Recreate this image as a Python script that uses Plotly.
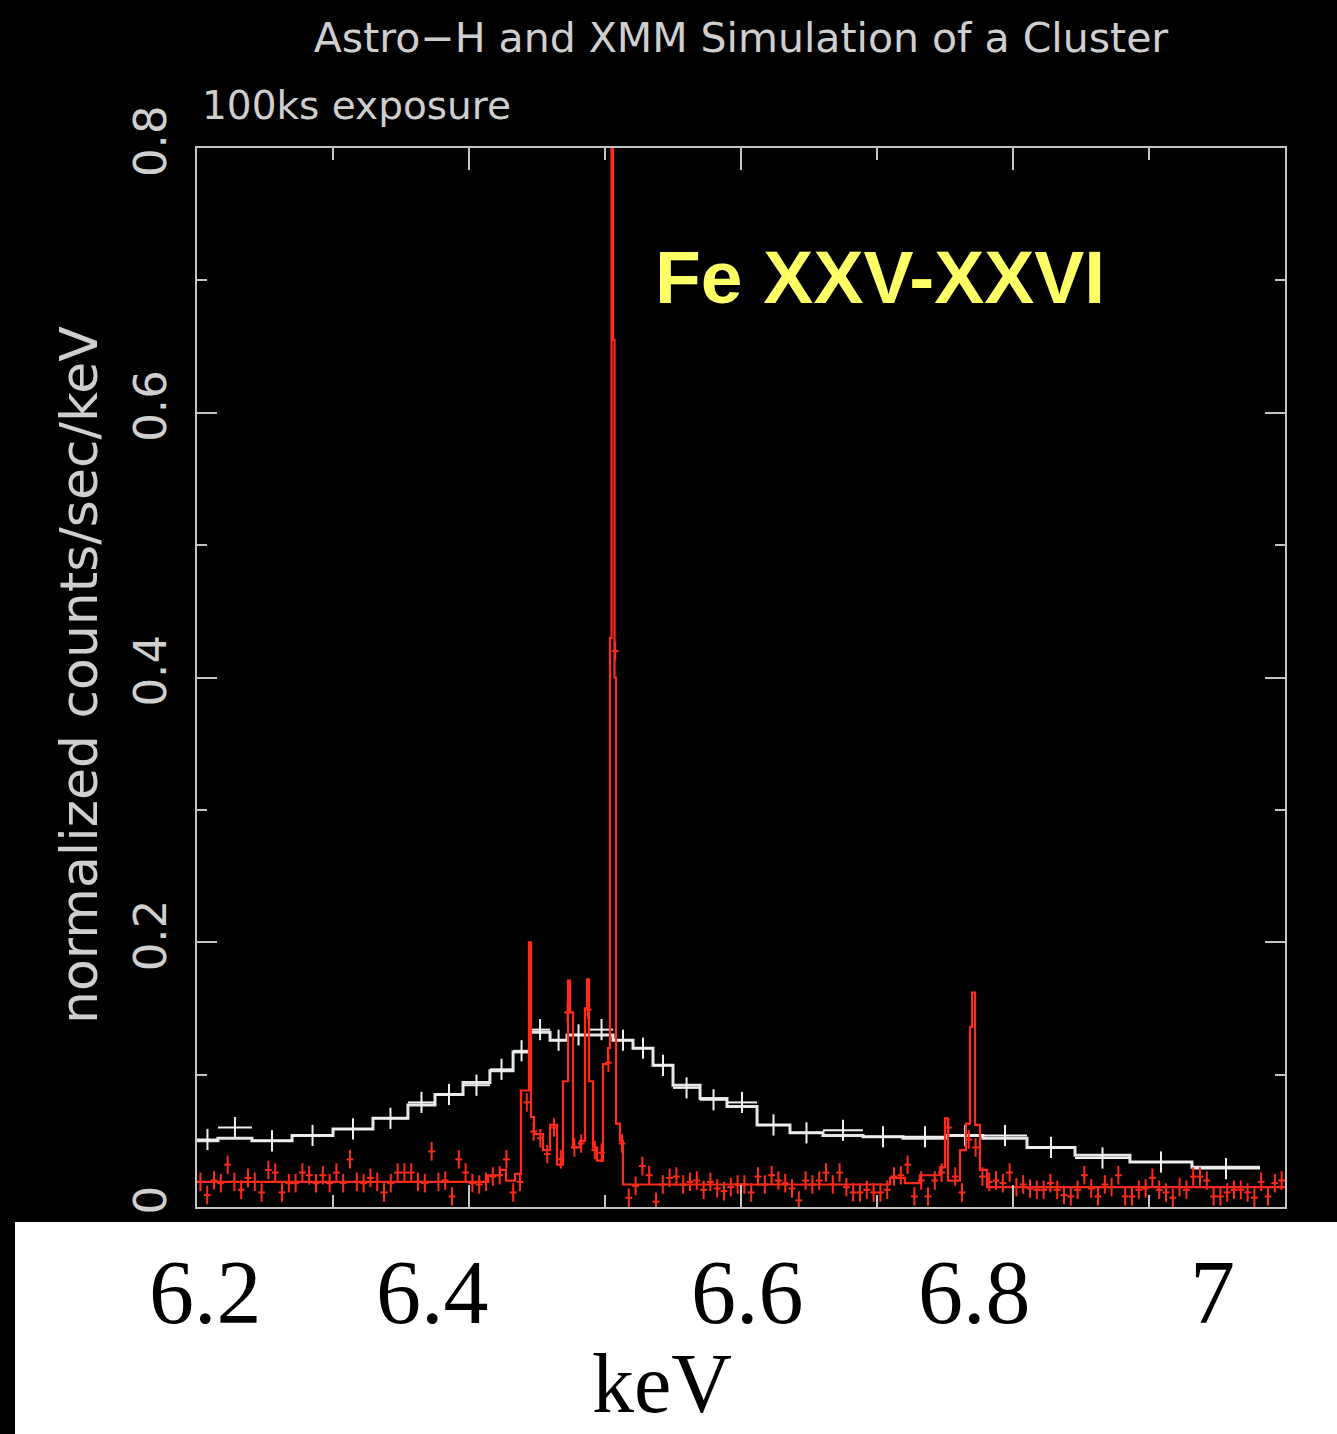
import plotly.graph_objects as go

# ---------------- data ----------------
# XMM-Newton simulated spectrum (coarse bins, keV edges) and values
xmm_edges = [6.2000, 6.2154, 6.2404, 6.2699, 6.3000, 6.3294, 6.3551, 6.3750, 6.3956,
             6.4154, 6.4324, 6.4449, 6.4596, 6.4721, 6.4890, 6.5059, 6.5206, 6.5353,
             6.5500, 6.5699, 6.5897, 6.6118, 6.6360, 6.6603, 6.6897, 6.7191, 6.7515,
             6.7779, 6.8103, 6.8456, 6.8860, 6.9316, 6.9816]
xmm_model = [0.050, 0.052, 0.050, 0.054, 0.059, 0.067, 0.077, 0.085, 0.094, 0.103,
             0.117, 0.132, 0.126, 0.130, 0.130, 0.126, 0.120, 0.107, 0.092, 0.082,
             0.076, 0.062, 0.056, 0.054, 0.053, 0.052, 0.054, 0.052, 0.045, 0.039,
             0.034, 0.030]
xmm_data = [0.051, 0.060, 0.050, 0.054, 0.059, 0.067, 0.079, 0.085, 0.092, 0.104,
            0.118, 0.134, 0.126, 0.130, 0.134, 0.126, 0.120, 0.107, 0.090, 0.081,
            0.079, 0.062, 0.056, 0.058, 0.053, 0.053, 0.054, 0.054, 0.045, 0.037,
            0.034, 0.029]

# Astro-H SXS model (fine resolution, step edges in keV) and values
astroh_edges = [6.2000, 6.4140, 6.4228, 6.4272, 6.4338, 6.4382, 6.4441, 6.4456, 6.4478,
                6.4544, 6.4596, 6.4647, 6.4691, 6.4728, 6.4743, 6.4765, 6.4816, 6.4853,
                6.4868, 6.4882, 6.4912, 6.4941, 6.4985, 6.5022, 6.5037, 6.5048, 6.5059,
                6.5070, 6.5081, 6.5110, 6.5132, 6.7096, 6.7206, 6.7316, 6.7463, 6.7500,
                6.7522, 6.7610, 6.7654, 6.7684, 6.7699, 6.7721, 6.7757, 6.7809, 7.0000]
astroh_model = [0.019, 0.024, 0.028, 0.020, 0.025, 0.088, 0.200, 0.068, 0.055, 0.043,
                0.062, 0.032, 0.095, 0.171, 0.147, 0.045, 0.050, 0.150, 0.172, 0.095,
                0.045, 0.035, 0.108, 0.120, 0.430, 0.850, 0.655, 0.400, 0.063, 0.050,
                0.017, 0.022, 0.018, 0.024, 0.030, 0.067, 0.020, 0.043, 0.063, 0.136,
                0.162, 0.062, 0.028, 0.015]

# Astro-H simulated data: 0.005 keV bins from 6.200 to 7.000
astroh_bin_lo = 6.200
astroh_bin_width = 0.005
astroh_data = [
    0.019, 0.009, 0.020, 0.018, 0.032, 0.019, 0.013, 0.022, 0.019, 0.011,
    0.028, 0.026, 0.011, 0.018, 0.018, 0.026, 0.024, 0.018, 0.024, 0.018,
    0.026, 0.018, 0.036, 0.019, 0.018, 0.022, 0.019, 0.011, 0.018, 0.026,
    0.026, 0.026, 0.019, 0.018, 0.042, 0.019, 0.020, 0.008, 0.036, 0.026,
    0.018, 0.017, 0.019, 0.023, 0.024, 0.036, 0.011, 0.019, 0.079, 0.057,
    0.052, 0.040, 0.060, 0.036, 0.147, 0.045, 0.048, 0.149, 0.043, 0.041,
    0.109, 0.420, 0.048, 0.007, 0.016, 0.031, 0.024, 0.004, 0.017, 0.022,
    0.023, 0.017, 0.019, 0.020, 0.013, 0.019, 0.014, 0.012, 0.015, 0.017,
    0.017, 0.011, 0.023, 0.017, 0.024, 0.020, 0.018, 0.014, 0.005, 0.020,
    0.017, 0.020, 0.026, 0.017, 0.026, 0.015, 0.011, 0.011, 0.013, 0.011,
    0.011, 0.013, 0.023, 0.024, 0.032, 0.008, 0.020, 0.008, 0.020, 0.026,
    0.060, 0.023, 0.011, 0.051, 0.045, 0.023, 0.019, 0.020, 0.018, 0.026,
    0.015, 0.017, 0.014, 0.013, 0.013, 0.018, 0.013, 0.009, 0.008, 0.013,
    0.024, 0.014, 0.008, 0.017, 0.015, 0.024, 0.008, 0.008, 0.013, 0.014,
    0.022, 0.013, 0.011, 0.007, 0.015, 0.013, 0.023, 0.023, 0.020, 0.008,
    0.008, 0.011, 0.013, 0.013, 0.011, 0.007, 0.019, 0.008, 0.018, 0.020,
]
astroh_err = 0.007
xmm_err = 0.008

y_tick_vals = [0, 0.2, 0.4, 0.6, 0.8]
y_tick_text = ["0", "0.2", "0.4", "0.6", "0.8"]

# overlay energy labels (pasted below the frame) and their positions in keV
bottom_labels = ["6.2", "6.4", "6.6", "6.8", "7"]
bottom_label_pos = [6.206, 6.373, 6.605, 6.772, 6.947]

title_text = "Astro\u2212H and XMM Simulation of a Cluster"
sub_text = "100ks exposure"
line_text = "Fe XXV-XXVI"
x_title = "keV"
y_title = "normalized counts/sec/keV"

# ---------------- figure ----------------
W, H = 1337, 1434
ML, MR, MT, MB = 197, 52, 148, 227
PW = W - ML - MR
PH = H - MT - MB

def px_x(p):
    return (p - ML) / PW

def px_y(p):
    return (H - MB - p) / PH

fig = go.Figure()

# XMM model histogram
fig.add_trace(go.Scatter(
    x=xmm_edges, y=xmm_model + [xmm_model[-1]], mode="lines",
    line=dict(color="#e6e6e6", width=3, shape="hv"), hoverinfo="skip", showlegend=False))

# XMM data crosses
xmm_cent = [(a + b) / 2 for a, b in zip(xmm_edges[:-1], xmm_edges[1:])]
xmm_half = [(b - a) / 2 for a, b in zip(xmm_edges[:-1], xmm_edges[1:])]
fig.add_trace(go.Scatter(
    x=xmm_cent, y=xmm_data, mode="markers", marker=dict(size=1, color="#f0f0f0"),
    error_x=dict(type="data", array=xmm_half, color="#f0f0f0", thickness=2, width=0),
    error_y=dict(type="constant", value=xmm_err, color="#f0f0f0", thickness=2, width=0),
    hoverinfo="skip", showlegend=False))

# Astro-H data crosses
n = len(astroh_data)
ah_cent = [astroh_bin_lo + astroh_bin_width * (i + 0.5) for i in range(n)]
fig.add_trace(go.Scatter(
    x=ah_cent, y=astroh_data, mode="markers", marker=dict(size=1, color="#ff2a1a"),
    error_x=dict(type="constant", value=astroh_bin_width / 2, color="#ff2a1a", thickness=2, width=0),
    error_y=dict(type="constant", value=astroh_err, color="#ff2a1a", thickness=2, width=0),
    hoverinfo="skip", showlegend=False))

# Astro-H model histogram
fig.add_trace(go.Scatter(
    x=astroh_edges, y=astroh_model + [astroh_model[-1]], mode="lines",
    line=dict(color="#ff2a1a", width=2.2, shape="hv"), hoverinfo="skip", showlegend=False))

axis_col = "#c4c4c4"
txt_col = "#cfcfcf"
font_main = "DejaVu Sans, Liberation Sans, sans-serif"

fig.update_layout(
    width=W, height=H,
    margin=dict(l=ML, r=MR, t=MT, b=MB, autoexpand=False),
    paper_bgcolor="black", plot_bgcolor="black",
    title=dict(text=title_text, x=0.5, xref="paper", xanchor="center",
               y=1 - 38 / H, yref="container", yanchor="middle",
               font=dict(family=font_main, size=41, color=txt_col)),
    xaxis=dict(range=[6.2, 7.0], showgrid=False, zeroline=False,
               showline=True, linecolor=axis_col, linewidth=2, mirror="ticks",
               ticks="inside", tickvals=[6.2, 6.4, 6.6, 6.8, 7.0], ticklen=22,
               tickwidth=2, tickcolor=axis_col, showticklabels=False,
               minor=dict(ticks="inside", tickvals=[6.3, 6.5, 6.7, 6.9], ticklen=12,
                          tickwidth=2, tickcolor=axis_col, showgrid=False)),
    yaxis=dict(range=[0, 0.8], showgrid=False, zeroline=False,
               showline=True, linecolor=axis_col, linewidth=2, mirror="ticks",
               ticks="inside", tickvals=y_tick_vals, ticktext=y_tick_text, ticklen=20,
               tickwidth=2, tickcolor=axis_col, tickangle=-90,
               tickfont=dict(family=font_main, size=45, color=txt_col),
               ticklabelstandoff=11,
               minor=dict(ticks="inside", tickvals=[0.1, 0.3, 0.5, 0.7], ticklen=10,
                          tickwidth=2, tickcolor=axis_col, showgrid=False)),
)

# white overlay box for the pasted energy labels
fig.add_shape(type="rect", xref="paper", yref="paper",
              x0=px_x(15), x1=px_x(W + 5), y0=px_y(H + 5), y1=px_y(1222),
              fillcolor="white", line=dict(width=0), layer="above")

annos = []
annos.append(dict(text=y_title, xref="paper", yref="paper", x=px_x(79), y=px_y(675),
                  xanchor="center", yanchor="middle", textangle=-90, showarrow=False,
                  font=dict(family=font_main, size=52, color=txt_col)))
annos.append(dict(text=sub_text, xref="paper", yref="paper", x=px_x(200), y=px_y(106),
                  xanchor="left", yanchor="middle", showarrow=False,
                  font=dict(family=font_main, size=39, color=txt_col)))
annos.append(dict(text="<b>" + line_text + "</b>", xref="paper", yref="paper",
                  x=px_x(653), y=px_y(277), xanchor="left", yanchor="middle", showarrow=False,
                  font=dict(family="Liberation Sans, Arial, sans-serif",
                            size=75, color="#ffff66")))
for lab, pos in zip(bottom_labels, bottom_label_pos):
    annos.append(dict(text=lab, xref="x", yref="paper", x=pos, y=px_y(1292),
                      xanchor="center", yanchor="middle", showarrow=False,
                      font=dict(family="Liberation Serif, Times New Roman, serif", size=90, color="black")))
annos.append(dict(text=x_title, xref="paper", yref="paper", x=px_x(662), y=px_y(1432),
                  xanchor="center", yanchor="bottom", showarrow=False,
                  font=dict(family="Liberation Serif, Times New Roman, serif", size=84, color="black")))
fig.update_layout(annotations=annos)

fig.write_html("out.html")
